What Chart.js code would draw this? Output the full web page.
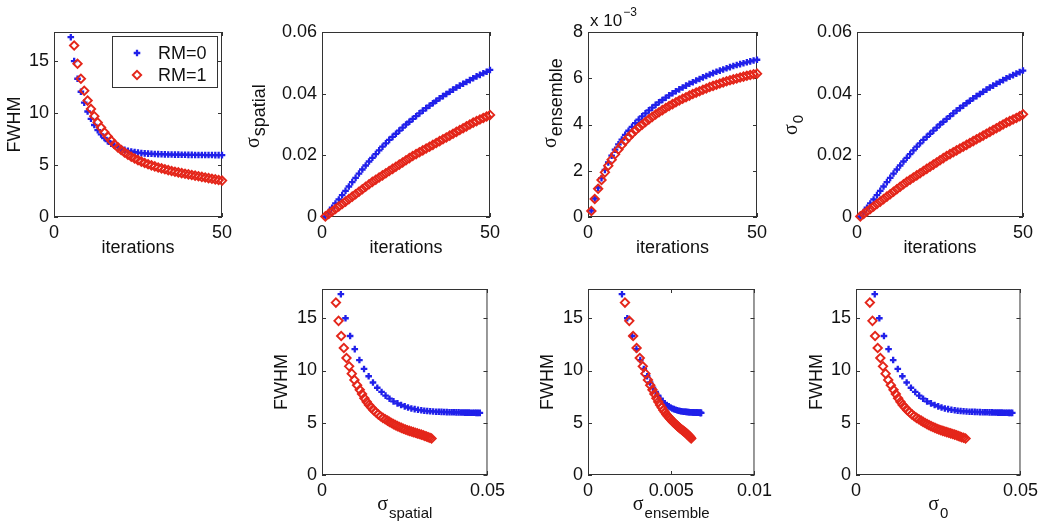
<!DOCTYPE html>
<html>
<head>
<meta charset="utf-8">
<script src="https://cdn.jsdelivr.net/npm/chart.js@4.4.0/dist/chart.umd.min.js"></script>
<style>
  html, body { margin: 0; padding: 0; background: #fff; }
  body { width: 1050px; height: 528px; position: relative; overflow: hidden; }
  canvas { position: absolute; }
</style>
</head>
<body>
<canvas id="p1"></canvas>
<canvas id="p2"></canvas>
<canvas id="p3"></canvas>
<canvas id="p4"></canvas>
<canvas id="p5"></canvas>
<canvas id="p6"></canvas>
<canvas id="p7"></canvas>
<script>
// ---- data ----
const seriesLabels = ["RM=0", "RM=1"];

const iterations = [1, 2, 3, 4, 5, 6, 7, 8, 9, 10, 11, 12, 13, 14, 15, 16, 17, 18, 19, 20,
  21, 22, 23, 24, 25, 26, 27, 28, 29, 30, 31, 32, 33, 34, 35, 36, 37, 38, 39, 40,
  41, 42, 43, 44, 45, 46, 47, 48, 49, 50];

// FWHM per iteration (not defined for the first iterations)
const fwhmRM0 = [null, null, null, null,
  17.3, 15.0, 13.3, 12.05, 11.0, 10.15, 9.45, 8.85, 8.35, 7.95,
  7.6, 7.3, 7.05, 6.85, 6.7, 6.57, 6.46, 6.37, 6.3, 6.24,
  6.19, 6.15, 6.12, 6.1, 6.08, 6.06, 6.05, 6.04, 6.03, 6.02,
  6.01, 6.0, 6.0, 5.99, 5.99, 5.98, 5.98, 5.97, 5.97, 5.97,
  5.96, 5.96, 5.96, 5.95, 5.95, 5.95];
const fwhmRM1 = [null, null, null, null, null,
  16.5, 14.75, 13.3, 12.15, 11.2,
  10.4, 9.7, 9.1, 8.6, 8.15, 7.75, 7.35, 7.0, 6.7, 6.45,
  6.2, 6.0, 5.8, 5.63, 5.47, 5.33, 5.2, 5.08, 4.97, 4.87,
  4.77, 4.68, 4.59, 4.51, 4.43, 4.36, 4.29, 4.22, 4.16, 4.1,
  4.04, 3.98, 3.92, 3.86, 3.8, 3.74, 3.68, 3.62, 3.56, 3.5];

const spatialRM0 = [0.0002, 0.0016, 0.0030, 0.0044, 0.0057, 0.0071, 0.0085, 0.0099, 0.0113, 0.0127,
  0.0141, 0.0154, 0.0167, 0.0180, 0.0192, 0.0204, 0.0216, 0.0228, 0.0239, 0.0250,
  0.0260, 0.0270, 0.0280, 0.0290, 0.0300, 0.0309, 0.0318, 0.0327, 0.0336, 0.0345,
  0.0353, 0.0361, 0.0369, 0.0377, 0.0385, 0.0392, 0.0399, 0.0406, 0.0413, 0.0420,
  0.0426, 0.0432, 0.0438, 0.0444, 0.0450, 0.0456, 0.0461, 0.0466, 0.0471, 0.0477];
const spatialRM1 = [0.0002, 0.0010, 0.0018, 0.0026, 0.0034, 0.0042, 0.0050, 0.0058, 0.0066, 0.0074,
  0.0082, 0.0090, 0.0098, 0.0106, 0.0114, 0.0121, 0.0128, 0.0135, 0.0142, 0.0149,
  0.0156, 0.0163, 0.0170, 0.0177, 0.0184, 0.0191, 0.0198, 0.0204, 0.0210, 0.0216,
  0.0222, 0.0228, 0.0234, 0.0240, 0.0246, 0.0252, 0.0258, 0.0264, 0.0270, 0.0276,
  0.0282, 0.0288, 0.0294, 0.0300, 0.0306, 0.0311, 0.0316, 0.0321, 0.0326, 0.0331];

const ensembleRM0 = [0.00028, 0.00080, 0.00127, 0.00168, 0.00204, 0.00236, 0.00265, 0.00291, 0.00314, 0.00335,
  0.00355, 0.00373, 0.00390, 0.00406, 0.00421, 0.00435, 0.00448, 0.00461, 0.00473, 0.00485,
  0.00496, 0.00506, 0.00516, 0.00526, 0.00535, 0.00544, 0.00552, 0.00560, 0.00568, 0.00576,
  0.00583, 0.00590, 0.00597, 0.00604, 0.00610, 0.00616, 0.00622, 0.00628, 0.00633, 0.00638,
  0.00643, 0.00648, 0.00653, 0.00657, 0.00661, 0.00665, 0.00669, 0.00673, 0.00677, 0.00680];
const ensembleRM1 = [0.00026, 0.00078, 0.00122, 0.00160, 0.00193, 0.00222, 0.00248, 0.00271, 0.00292, 0.00311,
  0.00329, 0.00345, 0.00360, 0.00374, 0.00387, 0.00399, 0.00411, 0.00422, 0.00433, 0.00443,
  0.00453, 0.00462, 0.00471, 0.00480, 0.00488, 0.00496, 0.00504, 0.00511, 0.00518, 0.00525,
  0.00532, 0.00538, 0.00544, 0.00550, 0.00556, 0.00562, 0.00567, 0.00572, 0.00577, 0.00582,
  0.00587, 0.00591, 0.00595, 0.00599, 0.00603, 0.00607, 0.00611, 0.00614, 0.00617, 0.00620];

const sigma0RM0 = [0.0002, 0.0016, 0.0030, 0.0044, 0.0057, 0.0071, 0.0085, 0.0099, 0.0113, 0.0127,
  0.0141, 0.0154, 0.0167, 0.0180, 0.0192, 0.0204, 0.0216, 0.0228, 0.0239, 0.0250,
  0.0260, 0.0270, 0.0280, 0.0290, 0.0300, 0.0309, 0.0318, 0.0327, 0.0336, 0.0345,
  0.0353, 0.0361, 0.0369, 0.0377, 0.0385, 0.0392, 0.0399, 0.0406, 0.0413, 0.0420,
  0.0426, 0.0432, 0.0438, 0.0444, 0.0450, 0.0455, 0.0460, 0.0465, 0.0470, 0.0475];
const sigma0RM1 = [0.0002, 0.0010, 0.0018, 0.0026, 0.0034, 0.0042, 0.0050, 0.0058, 0.0066, 0.0074,
  0.0082, 0.0090, 0.0098, 0.0106, 0.0114, 0.0121, 0.0128, 0.0135, 0.0142, 0.0149,
  0.0156, 0.0163, 0.0170, 0.0177, 0.0184, 0.0191, 0.0198, 0.0204, 0.0210, 0.0216,
  0.0222, 0.0228, 0.0234, 0.0240, 0.0246, 0.0252, 0.0258, 0.0264, 0.0270, 0.0276,
  0.0282, 0.0288, 0.0294, 0.0300, 0.0306, 0.0311, 0.0316, 0.0321, 0.0327, 0.0333];

// tick labels
const iterTicks = [0, 50];
const fwhmTicks = [0, 5, 10, 15];
const sigmaTicks = [0, 0.02, 0.04, 0.06];
const ensembleTicks = [0, 0.002, 0.004, 0.006, 0.008];
const spatialXTicks = [0, 0.05];
const ensembleXTicks = [0, 0.005, 0.01];

// ---- styling ----
const SANS = "'Liberation Sans', Arial, sans-serif";
const SERIF = "'Liberation Serif', 'Times New Roman', serif";
const BLUE = "#2020ea";
const RED = "#e4261a";
const AXIS = "#333333";
const TXT = "#111111";
const LM = 90; // room left of each plot for tick labels and y label

function vsIterations(values) {
  const pts = [];
  for (let i = 0; i < iterations.length; i++) {
    if (values[i] !== null) pts.push({ x: iterations[i], y: values[i] });
  }
  return pts;
}

function fwhmVs(sigma, fwhm) {
  const pts = [];
  for (let i = 0; i < fwhm.length; i++) {
    if (fwhm[i] !== null) pts.push({ x: sigma[i], y: fwhm[i] });
  }
  return pts;
}

function twoSeries(blue, red) {
  return [
    {
      label: seriesLabels[0], data: blue, showLine: false, clip: false, order: 1,
      pointStyle: "cross", pointRadius: 3.3, pointBorderWidth: 2.3,
      pointBorderColor: BLUE, pointBackgroundColor: BLUE,
    },
    {
      label: seriesLabels[1], data: red, showLine: false, clip: false, order: 0,
      pointStyle: "rectRot", pointRadius: 4.2, pointBorderWidth: 1.9,
      pointBorderColor: RED, pointBackgroundColor: "rgba(0,0,0,0)",
    },
  ];
}

function axis(min, max, ticks, fmt, isY) {
  return {
    type: "linear", min: min, max: max,
    grid: { display: false, drawTicks: false },
    border: { display: false },
    afterBuildTicks: (s) => { s.ticks = ticks.map((v) => ({ value: v })); },
    afterFit: (s) => { if (isY) s.width = LM; else s.height = 58; },
    ticks: {
      padding: 5, autoSkip: false, maxRotation: 0, color: TXT,
      font: { family: SANS, size: 18 },
      callback: fmt,
    },
  };
}

const plain = (v) => String(v);
const milli = (v) => String(Math.round(v * 1000));

function drawLabel(ctx, lab, x, y) {
  ctx.save();
  ctx.translate(x, y);
  if (lab.rotate) ctx.rotate(-Math.PI / 2);
  ctx.fillStyle = TXT;
  ctx.textBaseline = "alphabetic";
  ctx.textAlign = "left";
  ctx.font = lab.mainFont;
  const wm = ctx.measureText(lab.main).width;
  let ws = 0;
  if (lab.sub) {
    ctx.font = lab.subFont;
    ws = ctx.measureText(lab.sub).width + 1;
  }
  const x0 = lab.align === "center" ? -(wm + ws) / 2 : 0;
  ctx.font = lab.mainFont;
  ctx.fillText(lab.main, x0, 0);
  if (lab.sub) {
    ctx.font = lab.subFont;
    ctx.fillText(lab.sub, x0 + wm + 1, lab.subDy);
  }
  ctx.restore();
}

function marker(ctx, style, x, y, r) {
  ctx.beginPath();
  if (style === "cross") {
    ctx.moveTo(x - r, y); ctx.lineTo(x + r, y);
    ctx.moveTo(x, y - r); ctx.lineTo(x, y + r);
  } else {
    ctx.moveTo(x - r, y); ctx.lineTo(x, y - r);
    ctx.lineTo(x + r, y); ctx.lineTo(x, y + r);
    ctx.closePath();
  }
  ctx.stroke();
}

// box, inward ticks, axis labels, legend
const panelDecor = {
  id: "panelDecor",
  beforeDatasetsDraw(chart, args, o) {
    const { ctx, chartArea: a, scales } = chart;
    ctx.save();
    ctx.strokeStyle = AXIS;
    ctx.lineWidth = 1;
    ctx.strokeRect(a.left + 0.5, a.top + 0.5, a.width - 1, a.height - 1);
    const tl = 4;
    ctx.beginPath();
    scales.x.ticks.forEach((t) => {
      const p = Math.round(scales.x.getPixelForValue(t.value)) + 0.5;
      ctx.moveTo(p, a.bottom); ctx.lineTo(p, a.bottom - tl);
      ctx.moveTo(p, a.top); ctx.lineTo(p, a.top + tl);
    });
    scales.y.ticks.forEach((t) => {
      const p = Math.round(scales.y.getPixelForValue(t.value)) + 0.5;
      ctx.moveTo(a.left, p); ctx.lineTo(a.left + tl, p);
      ctx.moveTo(a.right, p); ctx.lineTo(a.right - tl, p);
    });
    ctx.stroke();
    ctx.restore();
  },
  afterDraw(chart, args, o) {
    const { ctx, chartArea: a } = chart;
    if (o.xTitle) {
      const p = o.xTitle.pos(a);
      drawLabel(ctx, o.xTitle, p[0], p[1]);
    }
    if (o.yTitle) {
      const p = o.yTitle.pos(a);
      drawLabel(ctx, o.yTitle, p[0], p[1]);
    }
    if (o.exponent) {
      ctx.save();
      ctx.fillStyle = TXT;
      ctx.textBaseline = "alphabetic";
      ctx.font = "17px " + SANS;
      ctx.fillText("x 10", a.left + 2, a.top - 6);
      const w = ctx.measureText("x 10").width;
      ctx.font = "12px " + SANS;
      ctx.fillText(o.exponent, a.left + 3 + w, a.top - 16);
      ctx.restore();
    }
    if (o.legend) {
      ctx.save();
      const bx = a.right - 110, by = a.top + 4, bw = 105, bh = 51;
      ctx.fillStyle = "#fff";
      ctx.fillRect(bx, by, bw, bh);
      ctx.strokeStyle = AXIS;
      ctx.lineWidth = 1;
      ctx.strokeRect(Math.round(bx) + 0.5, Math.round(by) + 0.5, bw, bh);
      chart.data.datasets.forEach((ds, i) => {
        const my = by + 17 + i * 22;
        ctx.strokeStyle = ds.pointBorderColor;
        ctx.lineWidth = ds.pointBorderWidth;
        marker(ctx, ds.pointStyle, bx + 25, my, ds.pointRadius);
        ctx.fillStyle = TXT;
        ctx.font = "18px " + SANS;
        ctx.textBaseline = "middle";
        ctx.fillText(ds.label, bx + 46, my + 1);
      });
      ctx.restore();
    }
  },
};

function makePanel(id, area, datasets, xAxis, yAxis, decor) {
  const cv = document.getElementById(id);
  const [l, t, w, h] = area;
  cv.width = w + LM + 20;
  cv.height = h + 90;
  cv.style.left = (l - LM) + "px";
  cv.style.top = (t - 32) + "px";
  return new Chart(cv, {
    type: "scatter",
    data: { datasets: datasets },
    options: {
      responsive: false,
      animation: false,
      events: [],
      layout: { padding: { left: 0, top: 32, right: 20, bottom: 0 } },
      scales: { x: xAxis, y: yAxis },
      plugins: { legend: { display: false }, tooltip: { enabled: false }, panelDecor: decor },
    },
    plugins: [panelDecor],
  });
}

// label helpers
const itersLabel = {
  main: "iterations", mainFont: "18px " + SANS, align: "center",
  pos: (a) => [(a.left + a.right) / 2, a.bottom + 36],
};
const fwhmLabel = (dx) => ({
  main: "FWHM", mainFont: "18px " + SANS, align: "center", rotate: true,
  pos: (a) => [a.left - dx, (a.top + a.bottom) / 2],
});
const sigmaY = (sub, dx, dy, subSize) => ({
  main: "σ", sub: sub, mainFont: "20px " + SERIF, subFont: subSize + "px " + SANS,
  subDy: 6, align: "left", rotate: true,
  pos: (a) => [a.left - dx, a.bottom - dy],
});
const sigmaX = (sub) => ({
  main: "σ", sub: sub, mainFont: "20px " + SERIF, subFont: "15px " + SANS,
  subDy: 8, align: "center",
  pos: (a) => [(a.left + a.right) / 2, a.bottom + 35],
});

// ---- top row: quantities against iterations ----
makePanel("p1", [54, 32, 168, 185],
  twoSeries(vsIterations(fwhmRM0), vsIterations(fwhmRM1)),
  axis(0, 50, iterTicks, plain, false), axis(0, 17.8, fwhmTicks, plain, true),
  { xTitle: itersLabel, yTitle: fwhmLabel(34), legend: true });

makePanel("p2", [322, 32, 168, 185],
  twoSeries(vsIterations(spatialRM0), vsIterations(spatialRM1)),
  axis(0, 50, iterTicks, plain, false), axis(0, 0.06, sigmaTicks, plain, true),
  { xTitle: itersLabel, yTitle: sigmaY("spatial", 63, 69, 18) });

makePanel("p3", [588, 32, 169, 185],
  twoSeries(vsIterations(ensembleRM0), vsIterations(ensembleRM1)),
  axis(0, 50, iterTicks, plain, false), axis(0, 0.008, ensembleTicks, milli, true),
  { xTitle: itersLabel, yTitle: sigmaY("ensemble", 32, 69, 18), exponent: "−3" });

makePanel("p4", [857, 32, 166, 185],
  twoSeries(vsIterations(sigma0RM0), vsIterations(sigma0RM1)),
  axis(0, 50, iterTicks, plain, false), axis(0, 0.06, sigmaTicks, plain, true),
  { xTitle: itersLabel, yTitle: sigmaY("0", 60, 82, 15) });

// ---- bottom row: FWHM against each sigma ----
makePanel("p5", [322, 289, 168, 186],
  twoSeries(fwhmVs(spatialRM0, fwhmRM0), fwhmVs(spatialRM1, fwhmRM1)),
  axis(0, 0.05, spatialXTicks, plain, false), axis(0, 17.8, fwhmTicks, plain, true),
  { xTitle: sigmaX("spatial"), yTitle: fwhmLabel(35) });

makePanel("p6", [588, 289, 169, 186],
  twoSeries(fwhmVs(ensembleRM0, fwhmRM0), fwhmVs(ensembleRM1, fwhmRM1)),
  axis(0, 0.01, ensembleXTicks, plain, false), axis(0, 17.8, fwhmTicks, plain, true),
  { xTitle: sigmaX("ensemble"), yTitle: fwhmLabel(35) });

makePanel("p7", [856, 289, 167, 186],
  twoSeries(fwhmVs(sigma0RM0, fwhmRM0), fwhmVs(sigma0RM1, fwhmRM1)),
  axis(0, 0.05, spatialXTicks, plain, false), axis(0, 17.8, fwhmTicks, plain, true),
  { xTitle: sigmaX("0"), yTitle: fwhmLabel(34) });
</script>
</body>
</html>
